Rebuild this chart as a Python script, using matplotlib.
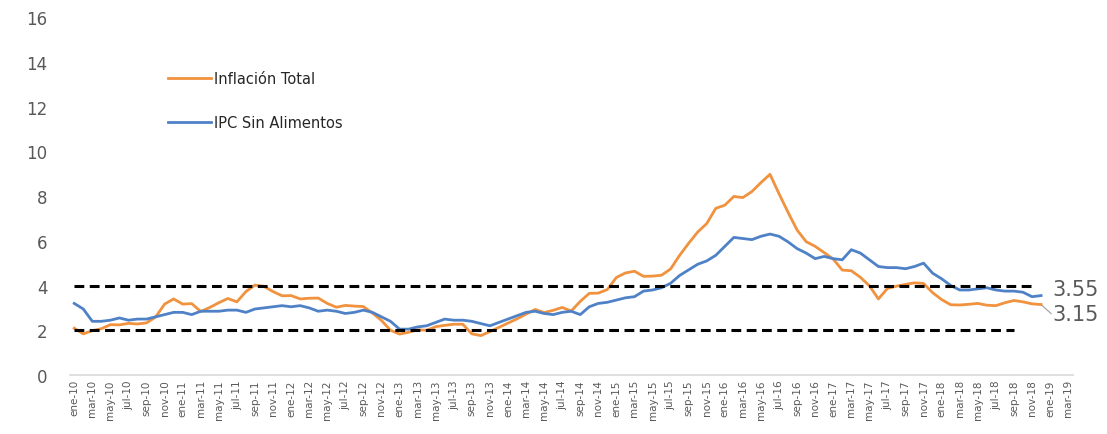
import matplotlib.pyplot as plt

# categorias del eje x (ene-10 a mar-19, mensual)
meses = ["ene", "feb", "mar", "abr", "may", "jun", "jul", "ago", "sep", "oct", "nov", "dic"]
categorias = [f"{m}-{a:02d}" for a in range(10, 20) for m in meses][:111]

# Inflacion total (%)
inflacion_total = [
    2.09, 1.84, 1.98, 2.07, 2.25, 2.24, 2.31, 2.28, 2.33, 2.59, 3.17,
    3.40, 3.17, 3.19, 2.84, 3.02, 3.23, 3.42, 3.27, 3.73, 4.02, 3.96, 3.73,
    3.54, 3.55, 3.40, 3.43, 3.44, 3.20, 3.03, 3.11, 3.08, 3.06, 2.77, 2.44,
    2.00, 1.83, 1.91, 2.02, 2.00, 2.16, 2.22, 2.27, 2.27, 1.84, 1.76, 1.94,
    2.13, 2.32, 2.51, 2.72, 2.93, 2.79, 2.89, 3.02, 2.86, 3.29, 3.65, 3.66,
    3.82, 4.36, 4.56, 4.64, 4.41, 4.42, 4.46, 4.74, 5.35, 5.89, 6.39, 6.77,
    7.45, 7.59, 7.98, 7.93, 8.20, 8.60, 8.97, 8.10, 7.27, 6.48, 5.96, 5.75,
    5.47, 5.18, 4.69, 4.66, 4.37, 3.99, 3.40, 3.87, 3.97, 4.05, 4.12, 4.09,
    3.68, 3.37, 3.14, 3.13, 3.16, 3.20, 3.12, 3.10, 3.23, 3.33, 3.27, 3.18, 3.15,
]

# IPC sin alimentos (%)
ipc_sin_alimentos = [
    3.20, 2.95, 2.40, 2.40, 2.45, 2.55, 2.45, 2.50, 2.50, 2.60, 2.70,
    2.80, 2.80, 2.70, 2.85, 2.85, 2.85, 2.90, 2.90, 2.80, 2.95, 3.00, 3.05,
    3.10, 3.05, 3.10, 3.00, 2.85, 2.90, 2.85, 2.75, 2.80, 2.90, 2.80, 2.60,
    2.40, 2.05, 2.05, 2.15, 2.20, 2.35, 2.50, 2.45, 2.45, 2.40, 2.30, 2.20,
    2.35, 2.50, 2.65, 2.80, 2.85, 2.75, 2.70, 2.80, 2.85, 2.70, 3.05, 3.20,
    3.25, 3.35, 3.45, 3.50, 3.75, 3.80, 3.90, 4.10, 4.45, 4.70, 4.95, 5.10,
    5.35, 5.75, 6.15, 6.10, 6.05, 6.20, 6.30, 6.20, 5.95, 5.65, 5.45, 5.20,
    5.30, 5.20, 5.15, 5.60, 5.45, 5.15, 4.85, 4.80, 4.80, 4.75, 4.85, 5.00,
    4.55, 4.30, 4.00, 3.80, 3.80, 3.85, 3.90, 3.80, 3.75, 3.75, 3.70, 3.50, 3.55,
]

# bandas del rango meta
meta_sup = [4] * 107
meta_inf = [2] * 105

naranja = "#F0923E"
azul = "#4F81C7"
gris = "#595959"

fig = plt.figure(figsize=(11.07, 4.35), dpi=100)
ax = fig.add_axes([0.063, 0.1356, 0.906, 0.823])

x_tot = list(range(len(inflacion_total)))
x_ipc = list(range(len(ipc_sin_alimentos)))
ax.plot(x_tot, inflacion_total, color=naranja, lw=2.0, label="Inflación Total", zorder=3)
ax.plot(x_ipc, ipc_sin_alimentos, color=azul, lw=2.0, label="IPC Sin Alimentos", zorder=3)
ax.plot(range(len(meta_sup)), meta_sup, color="black", lw=2.2, dashes=(3.2, 1.8), zorder=4)
ax.plot(range(len(meta_inf)), meta_inf, color="black", lw=2.2, dashes=(3.2, 1.8), zorder=4)

# etiquetas de los ultimos datos
ult = len(inflacion_total) - 1
ax.plot([ult, ult + 1.1], [inflacion_total[-1], 2.75], color="#A6A6A6", lw=0.9, zorder=2)
ax.text(ult + 1.3, 2.72, f"{inflacion_total[-1]:.2f}", fontsize=15, color=gris, va="center", ha="left")
ax.text(ult + 1.3, 3.84, f"{ipc_sin_alimentos[-1]:.2f}", fontsize=15, color=gris, va="center", ha="left")

ax.set_xlim(-0.5, len(categorias) - 0.5)
ax.set_ylim(0, 16)
ax.set_yticks(range(0, 17, 2))
ax.set_xticks(range(0, len(categorias), 2))
ax.set_xticklabels(categorias[::2], rotation=90, fontsize=7.5, color=gris)
ax.tick_params(axis="y", length=0, pad=16, labelsize=12, labelcolor=gris)
ax.tick_params(axis="x", length=0, pad=3)

for s in ["top", "right", "left"]:
    ax.spines[s].set_visible(False)
ax.spines["bottom"].set_color("#D9D9D9")
ax.spines["bottom"].set_linewidth(1.2)

ax.legend(loc="upper left", bbox_to_anchor=(0.1396, 0.865), bbox_transform=fig.transFigure,
          frameon=False, fontsize=10.5, handlelength=3.0, handletextpad=0.15,
          labelspacing=2.0, labelcolor="#262626")

plt.savefig("out.png", dpi=100)
plt.close()
